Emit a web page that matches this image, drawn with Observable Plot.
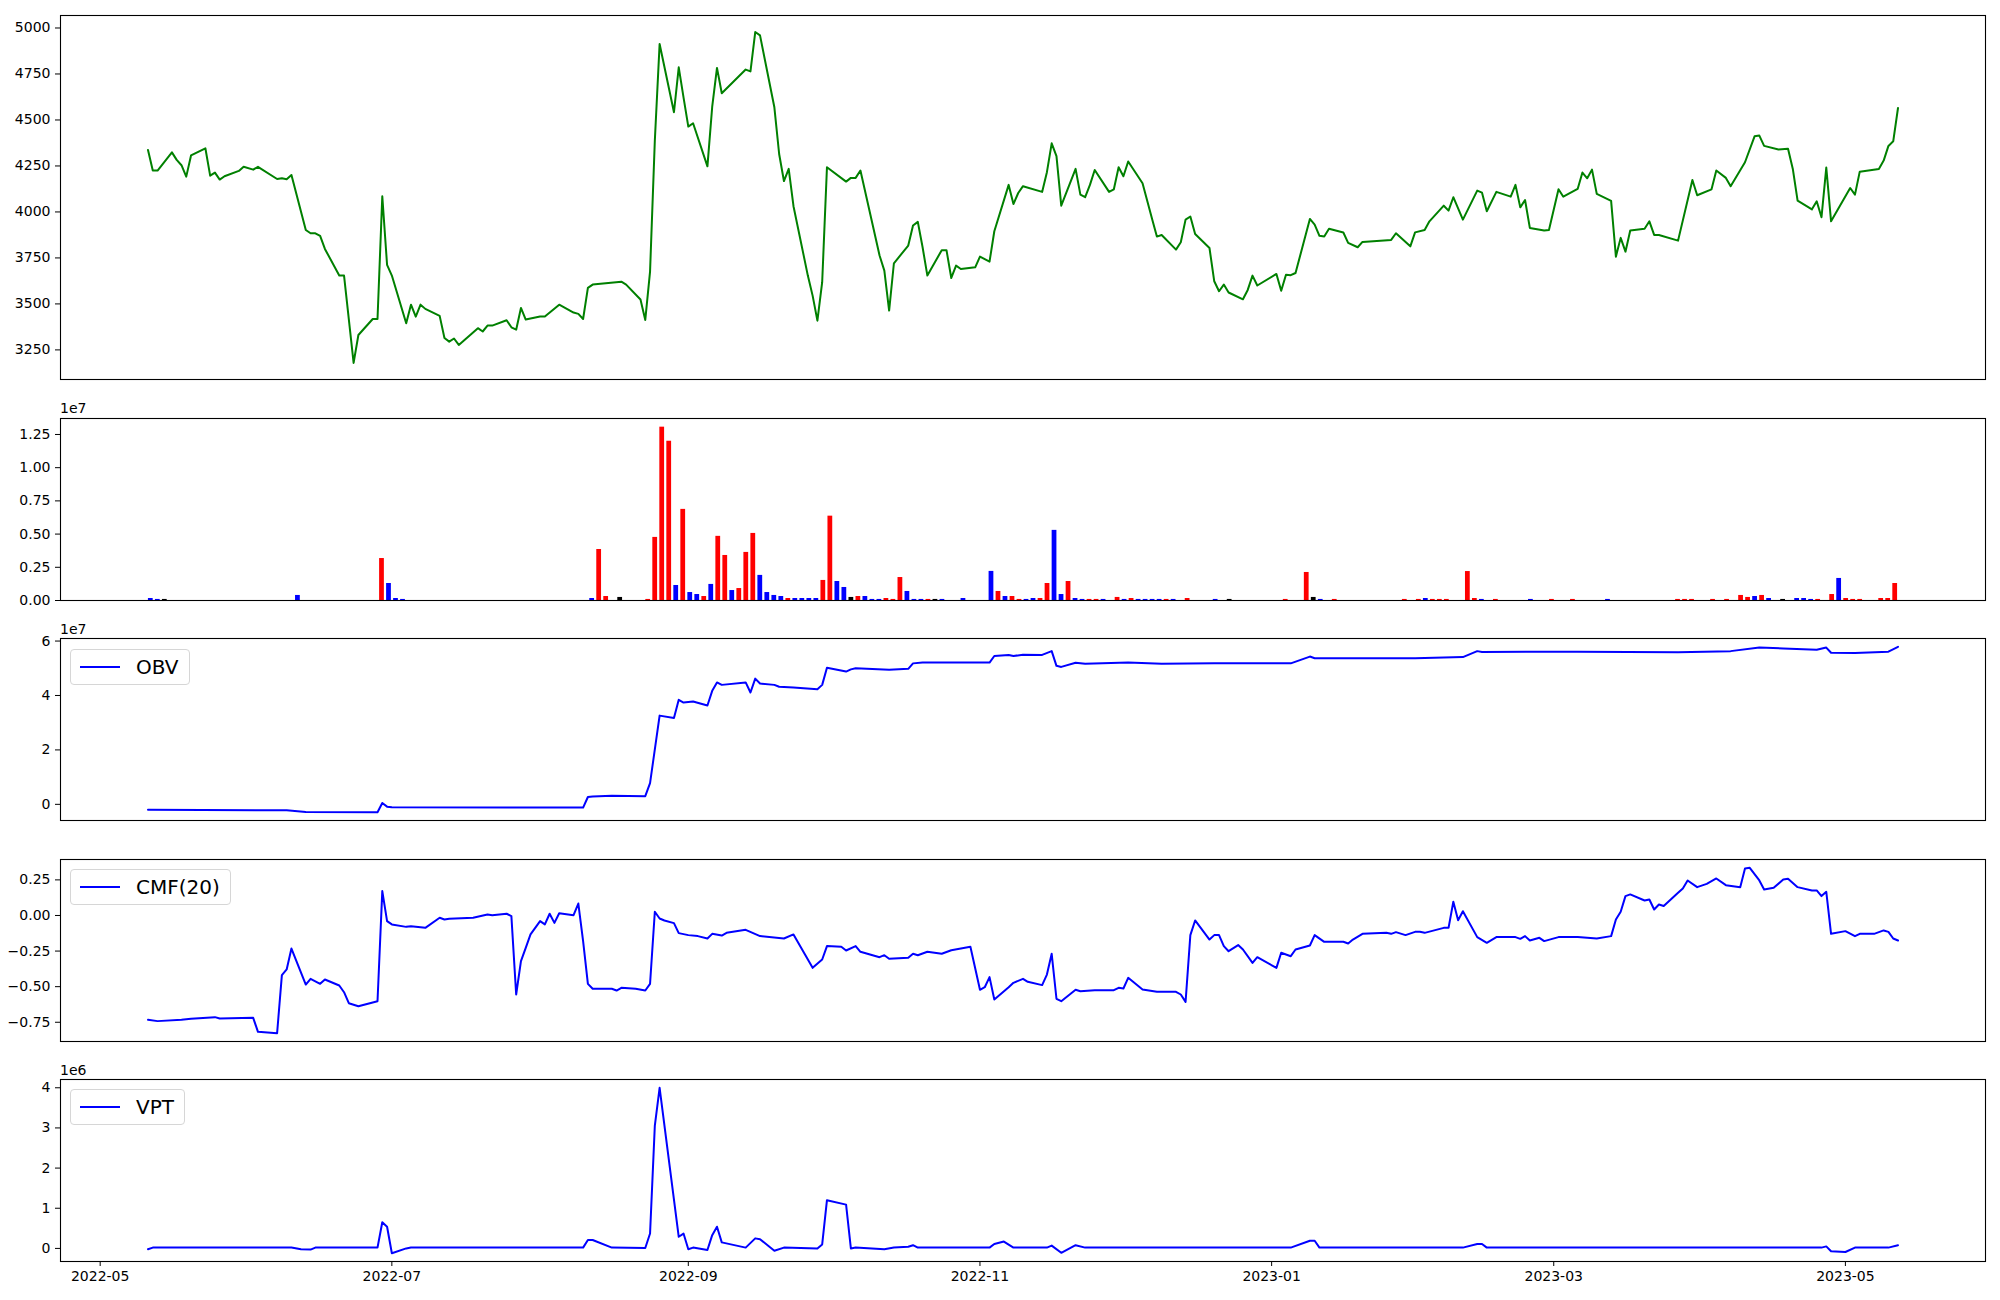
<!DOCTYPE html>
<html><head><meta charset="utf-8">
<script src="https://cdn.jsdelivr.net/npm/d3@7"></script>
<script src="https://cdn.jsdelivr.net/npm/@observablehq/plot@0.6"></script>
<style>
html,body{margin:0;padding:0;background:#fff;}
#chart{position:relative;width:2000px;height:1300px;font-family:"DejaVu Sans",sans-serif;overflow:hidden;}
.panel{position:absolute;left:0;}
.panel svg{display:block;}
.offset{position:absolute;left:60px;font-size:14px;line-height:14px;color:#000;}
.legend{position:absolute;left:70px;border:1px solid #d6d6d6;border-radius:4px;background:rgba(255,255,255,0.8);padding:6px 10px 6px 9px;display:flex;align-items:center;font-size:20px;line-height:22px;color:#000;}
.legend .swatch{width:40px;height:2px;background:blue;margin-right:16px;}
</style></head><body><div id="chart"></div><script>
// ---------- data ----------
const priceSeries = [["2022-05-11",4337],["2022-05-12",4225],["2022-05-13",4225],["2022-05-16",4324],["2022-05-17",4283],["2022-05-18",4254],["2022-05-19",4192],["2022-05-20",4307],["2022-05-23",4346],["2022-05-24",4197],["2022-05-25",4214],["2022-05-26",4176],["2022-05-27",4194],["2022-05-30",4223],["2022-05-31",4246],["2022-06-02",4230],["2022-06-03",4245],["2022-06-07",4179],["2022-06-08",4183],["2022-06-09",4178],["2022-06-10",4201],["2022-06-13",3902],["2022-06-14",3884],["2022-06-15",3884],["2022-06-16",3870],["2022-06-17",3799],["2022-06-20",3654],["2022-06-21",3654],["2022-06-23",3179],["2022-06-24",3331],["2022-06-27",3418],["2022-06-28",3418],["2022-06-29",4085],["2022-06-30",3712],["2022-07-01",3654],["2022-07-04",3395],["2022-07-05",3496],["2022-07-06",3431],["2022-07-07",3496],["2022-07-08",3473],["2022-07-11",3435],["2022-07-12",3315],["2022-07-13",3295],["2022-07-14",3312],["2022-07-15",3277],["2022-07-19",3368],["2022-07-20",3350],["2022-07-21",3382],["2022-07-22",3382],["2022-07-25",3411],["2022-07-26",3373],["2022-07-27",3360],["2022-07-28",3478],["2022-07-29",3415],["2022-08-01",3431],["2022-08-02",3431],["2022-08-05",3496],["2022-08-08",3453],["2022-08-09",3446],["2022-08-10",3418],["2022-08-11",3587],["2022-08-12",3605],["2022-08-18",3621],["2022-08-19",3605],["2022-08-22",3524],["2022-08-23",3413],["2022-08-24",3676],["2022-08-25",4388],["2022-08-26",4913],["2022-08-29",4542],["2022-08-30",4786],["2022-08-31",4623],["2022-09-01",4464],["2022-09-02",4482],["2022-09-05",4248],["2022-09-06",4572],["2022-09-07",4783],["2022-09-08",4645],["2022-09-13",4774],["2022-09-14",4764],["2022-09-15",4978],["2022-09-16",4960],["2022-09-19",4569],["2022-09-20",4315],["2022-09-21",4168],["2022-09-22",4234],["2022-09-23",4031],["2022-09-26",3654],["2022-09-27",3545],["2022-09-28",3409],["2022-09-29",3618],["2022-09-30",4243],["2022-10-04",4165],["2022-10-05",4185],["2022-10-06",4185],["2022-10-07",4225],["2022-10-11",3763],["2022-10-12",3681],["2022-10-13",3464],["2022-10-14",3721],["2022-10-17",3817],["2022-10-18",3926],["2022-10-19",3946],["2022-10-20",3808],["2022-10-21",3654],["2022-10-24",3792],["2022-10-25",3792],["2022-10-26",3641],["2022-10-27",3708],["2022-10-28",3690],["2022-10-31",3699],["2022-11-01",3757],["2022-11-03",3730],["2022-11-04",3895],["2022-11-07",4147],["2022-11-08",4043],["2022-11-09",4103],["2022-11-10",4140],["2022-11-14",4109],["2022-11-15",4216],["2022-11-16",4373],["2022-11-17",4303],["2022-11-18",4034],["2022-11-21",4234],["2022-11-22",4094],["2022-11-23",4080],["2022-11-24",4147],["2022-11-25",4228],["2022-11-28",4109],["2022-11-29",4123],["2022-11-30",4243],["2022-12-01",4194],["2022-12-02",4274],["2022-12-05",4156],["2022-12-07",3962],["2022-12-08",3866],["2022-12-09",3875],["2022-12-12",3795],["2022-12-13",3835],["2022-12-14",3958],["2022-12-15",3975],["2022-12-16",3880],["2022-12-19",3804],["2022-12-20",3623],["2022-12-21",3569],["2022-12-22",3605],["2022-12-23",3562],["2022-12-26",3525],["2022-12-27",3576],["2022-12-28",3654],["2022-12-29",3600],["2023-01-02",3663],["2023-01-03",3572],["2023-01-04",3659],["2023-01-05",3656],["2023-01-06",3668],["2023-01-09",3962],["2023-01-10",3931],["2023-01-11",3870],["2023-01-12",3866],["2023-01-13",3909],["2023-01-16",3888],["2023-01-17",3832],["2023-01-19",3808],["2023-01-20",3837],["2023-01-26",3848],["2023-01-27",3884],["2023-01-30",3813],["2023-01-31",3889],["2023-02-02",3902],["2023-02-03",3949],["2023-02-06",4034],["2023-02-07",4007],["2023-02-08",4080],["2023-02-10",3958],["2023-02-13",4116],["2023-02-14",4105],["2023-02-15",4004],["2023-02-17",4109],["2023-02-20",4083],["2023-02-21",4147],["2023-02-22",4025],["2023-02-23",4065],["2023-02-24",3913],["2023-02-27",3899],["2023-02-28",3902],["2023-03-02",4123],["2023-03-03",4083],["2023-03-06",4125],["2023-03-07",4214],["2023-03-08",4183],["2023-03-09",4230],["2023-03-10",4098],["2023-03-13",4060],["2023-03-14",3757],["2023-03-15",3859],["2023-03-16",3784],["2023-03-17",3899],["2023-03-20",3909],["2023-03-21",3949],["2023-03-22",3875],["2023-03-23",3875],["2023-03-27",3844],["2023-03-30",4174],["2023-03-31",4091],["2023-04-03",4123],["2023-04-04",4225],["2023-04-06",4185],["2023-04-07",4140],["2023-04-10",4270],["2023-04-12",4411],["2023-04-13",4415],["2023-04-14",4359],["2023-04-17",4339],["2023-04-19",4344],["2023-04-20",4234],["2023-04-21",4062],["2023-04-24",4014],["2023-04-25",4058],["2023-04-26",3971],["2023-04-27",4241],["2023-04-28",3949],["2023-05-02",4130],["2023-05-03",4094],["2023-05-04",4219],["2023-05-08",4234],["2023-05-09",4279],["2023-05-10",4359],["2023-05-11",4384],["2023-05-12",4565]];

// volume bars: [slot index, volume, direction]
const volumeBars = [[0,0.015e7,"down"],[1,0.008e7,"down"],[2,0.008e7,"flat"],[21,0.038e7,"down"],[33,0.316e7,"up"],[34,0.128e7,"down"],[35,0.015e7,"down"],[36,0.008e7,"down"],[63,0.015e7,"down"],[64,0.384e7,"up"],[65,0.030e7,"up"],[67,0.023e7,"flat"],[71,0.008e7,"up"],[72,0.475e7,"up"],[73,1.305e7,"up"],[74,1.199e7,"up"],[75,0.113e7,"down"],[76,0.686e7,"up"],[77,0.060e7,"down"],[78,0.045e7,"down"],[79,0.030e7,"up"],[80,0.121e7,"down"],[81,0.483e7,"up"],[82,0.339e7,"up"],[83,0.075e7,"down"],[84,0.090e7,"up"],[85,0.362e7,"up"],[86,0.505e7,"up"],[87,0.189e7,"down"],[88,0.060e7,"down"],[89,0.038e7,"down"],[90,0.030e7,"down"],[91,0.015e7,"up"],[92,0.015e7,"down"],[93,0.015e7,"down"],[94,0.015e7,"down"],[95,0.015e7,"down"],[96,0.151e7,"up"],[97,0.635e7,"up"],[98,0.143e7,"down"],[99,0.098e7,"down"],[100,0.023e7,"flat"],[101,0.030e7,"up"],[102,0.030e7,"down"],[103,0.008e7,"down"],[104,0.008e7,"down"],[105,0.015e7,"up"],[106,0.008e7,"up"],[107,0.173e7,"up"],[108,0.068e7,"down"],[109,0.008e7,"down"],[110,0.008e7,"down"],[111,0.008e7,"up"],[112,0.008e7,"flat"],[113,0.008e7,"down"],[116,0.015e7,"down"],[120,0.219e7,"down"],[121,0.068e7,"up"],[122,0.030e7,"down"],[123,0.030e7,"up"],[124,0.008e7,"up"],[125,0.008e7,"down"],[126,0.015e7,"down"],[127,0.015e7,"up"],[128,0.128e7,"up"],[129,0.528e7,"down"],[130,0.045e7,"down"],[131,0.143e7,"up"],[132,0.015e7,"down"],[133,0.008e7,"down"],[134,0.008e7,"up"],[135,0.008e7,"up"],[136,0.008e7,"down"],[138,0.023e7,"up"],[139,0.008e7,"down"],[140,0.015e7,"up"],[141,0.008e7,"down"],[142,0.008e7,"down"],[143,0.008e7,"down"],[144,0.008e7,"down"],[145,0.008e7,"up"],[146,0.008e7,"down"],[148,0.015e7,"up"],[152,0.008e7,"down"],[154,0.008e7,"flat"],[162,0.008e7,"up"],[165,0.211e7,"up"],[166,0.023e7,"flat"],[167,0.008e7,"down"],[169,0.008e7,"up"],[179,0.008e7,"up"],[181,0.008e7,"up"],[182,0.015e7,"down"],[183,0.008e7,"up"],[184,0.008e7,"up"],[185,0.008e7,"up"],[188,0.218e7,"up"],[189,0.015e7,"up"],[190,0.008e7,"down"],[192,0.008e7,"up"],[197,0.008e7,"down"],[200,0.008e7,"up"],[203,0.008e7,"up"],[208,0.008e7,"down"],[218,0.008e7,"up"],[219,0.008e7,"up"],[220,0.008e7,"up"],[223,0.008e7,"up"],[225,0.008e7,"up"],[227,0.038e7,"up"],[228,0.023e7,"up"],[229,0.030e7,"down"],[230,0.038e7,"up"],[231,0.015e7,"down"],[233,0.008e7,"flat"],[235,0.015e7,"down"],[236,0.015e7,"down"],[237,0.008e7,"down"],[238,0.008e7,"up"],[240,0.045e7,"up"],[241,0.166e7,"down"],[242,0.015e7,"up"],[243,0.008e7,"up"],[244,0.008e7,"up"],[247,0.015e7,"up"],[248,0.015e7,"up"],[249,0.128e7,"up"]];
const volumeSlots = 250;
const volumeDirections = ["up", "down", "flat"];
const volumeColors = ["red", "blue", "black"];

const obvSeries = [["2022-05-11",-0.195e7],["2022-06-09",-0.22e7],["2022-06-13",-0.28e7],["2022-06-28",-0.29e7],["2022-06-29",0.05e7],["2022-06-30",-0.085e7],["2022-07-01",-0.11e7],["2022-08-10",-0.12e7],["2022-08-11",0.27e7],["2022-08-12",0.29e7],["2022-08-16",0.32e7],["2022-08-23",0.30e7],["2022-08-24",0.78e7],["2022-08-26",3.26e7],["2022-08-29",3.17e7],["2022-08-30",3.84e7],["2022-08-31",3.74e7],["2022-09-02",3.78e7],["2022-09-05",3.63e7],["2022-09-06",4.17e7],["2022-09-07",4.48e7],["2022-09-08",4.39e7],["2022-09-13",4.48e7],["2022-09-14",4.11e7],["2022-09-15",4.62e7],["2022-09-16",4.44e7],["2022-09-19",4.39e7],["2022-09-20",4.32e7],["2022-09-23",4.29e7],["2022-09-28",4.23e7],["2022-09-29",4.39e7],["2022-09-30",5.02e7],["2022-10-04",4.88e7],["2022-10-05",4.96e7],["2022-10-06",5.00e7],["2022-10-13",4.95e7],["2022-10-17",4.98e7],["2022-10-18",5.18e7],["2022-10-20",5.21e7],["2022-11-03",5.21e7],["2022-11-04",5.45e7],["2022-11-07",5.49e7],["2022-11-08",5.45e7],["2022-11-10",5.50e7],["2022-11-14",5.49e7],["2022-11-16",5.63e7],["2022-11-17",5.09e7],["2022-11-18",5.05e7],["2022-11-21",5.20e7],["2022-11-23",5.17e7],["2022-12-02",5.21e7],["2022-12-09",5.17e7],["2022-12-20",5.18e7],["2023-01-05",5.18e7],["2023-01-09",5.43e7],["2023-01-10",5.37e7],["2023-01-31",5.37e7],["2023-02-10",5.41e7],["2023-02-13",5.63e7],["2023-02-14",5.60e7],["2023-03-06",5.61e7],["2023-03-27",5.59e7],["2023-04-07",5.63e7],["2023-04-13",5.76e7],["2023-04-18",5.73e7],["2023-04-25",5.68e7],["2023-04-27",5.76e7],["2023-04-28",5.57e7],["2023-05-03",5.56e7],["2023-05-10",5.61e7],["2023-05-12",5.79e7]];

const cmfSeries = [["2022-05-11",-0.733],["2022-05-13",-0.742],["2022-05-18",-0.733],["2022-05-20",-0.726],["2022-05-25",-0.714],["2022-05-26",-0.724],["2022-06-02",-0.719],["2022-06-03",-0.817],["2022-06-07",-0.827],["2022-06-08",-0.419],["2022-06-09",-0.379],["2022-06-10",-0.232],["2022-06-13",-0.485],["2022-06-14",-0.445],["2022-06-16",-0.480],["2022-06-17",-0.450],["2022-06-20",-0.492],["2022-06-21",-0.539],["2022-06-22",-0.616],["2022-06-24",-0.637],["2022-06-28",-0.602],["2022-06-29",0.171],["2022-06-30",-0.040],["2022-07-01",-0.063],["2022-07-04",-0.080],["2022-07-05",-0.075],["2022-07-07",-0.082],["2022-07-08",-0.087],["2022-07-11",-0.016],["2022-07-12",-0.028],["2022-07-13",-0.023],["2022-07-18",-0.016],["2022-07-21",0.007],["2022-07-22",0.002],["2022-07-25",0.012],["2022-07-26",-0.005],["2022-07-27",-0.555],["2022-07-28",-0.321],["2022-07-29",-0.227],["2022-07-30",-0.133],["2022-08-01",-0.040],["2022-08-02",-0.063],["2022-08-03",0.012],["2022-08-04",-0.052],["2022-08-05",0.016],["2022-08-08",0.002],["2022-08-09",0.084],["2022-08-10",-0.180],["2022-08-11",-0.480],["2022-08-12",-0.515],["2022-08-16",-0.515],["2022-08-17",-0.527],["2022-08-18",-0.508],["2022-08-21",-0.515],["2022-08-23",-0.527],["2022-08-24",-0.480],["2022-08-25",0.026],["2022-08-26",-0.021],["2022-08-27",-0.035],["2022-08-29",-0.054],["2022-08-30",-0.124],["2022-09-01",-0.138],["2022-09-03",-0.145],["2022-09-05",-0.162],["2022-09-06",-0.129],["2022-09-08",-0.141],["2022-09-09",-0.122],["2022-09-13",-0.101],["2022-09-16",-0.145],["2022-09-21",-0.162],["2022-09-23",-0.133],["2022-09-27",-0.368],["2022-09-29",-0.309],["2022-09-30",-0.215],["2022-10-03",-0.220],["2022-10-04",-0.246],["2022-10-06",-0.215],["2022-10-07",-0.255],["2022-10-11",-0.293],["2022-10-12",-0.279],["2022-10-13",-0.304],["2022-10-17",-0.297],["2022-10-18",-0.269],["2022-10-19",-0.279],["2022-10-21",-0.255],["2022-10-24",-0.269],["2022-10-26",-0.244],["2022-10-30",-0.220],["2022-11-01",-0.522],["2022-11-02",-0.504],["2022-11-03",-0.433],["2022-11-04",-0.590],["2022-11-07",-0.504],["2022-11-08",-0.473],["2022-11-10",-0.445],["2022-11-11",-0.466],["2022-11-14",-0.489],["2022-11-15",-0.415],["2022-11-16",-0.269],["2022-11-17",-0.585],["2022-11-18",-0.602],["2022-11-21",-0.522],["2022-11-22",-0.532],["2022-11-25",-0.525],["2022-11-29",-0.525],["2022-11-30",-0.508],["2022-12-01",-0.513],["2022-12-02",-0.438],["2022-12-05",-0.520],["2022-12-08",-0.536],["2022-12-12",-0.536],["2022-12-13",-0.555],["2022-12-14",-0.607],["2022-12-15",-0.138],["2022-12-16",-0.035],["2022-12-19",-0.169],["2022-12-20",-0.138],["2022-12-21",-0.138],["2022-12-22",-0.215],["2022-12-23",-0.251],["2022-12-25",-0.208],["2022-12-26",-0.239],["2022-12-28",-0.333],["2022-12-29",-0.293],["2023-01-02",-0.368],["2023-01-03",-0.262],["2023-01-05",-0.286],["2023-01-06",-0.239],["2023-01-09",-0.211],["2023-01-10",-0.138],["2023-01-12",-0.185],["2023-01-16",-0.185],["2023-01-17",-0.197],["2023-01-18",-0.169],["2023-01-20",-0.129],["2023-01-25",-0.122],["2023-01-26",-0.129],["2023-01-27",-0.117],["2023-01-29",-0.138],["2023-01-31",-0.115],["2023-02-01",-0.115],["2023-02-02",-0.122],["2023-02-06",-0.087],["2023-02-07",-0.087],["2023-02-08",0.096],["2023-02-09",-0.033],["2023-02-10",0.030],["2023-02-13",-0.152],["2023-02-15",-0.192],["2023-02-17",-0.152],["2023-02-21",-0.152],["2023-02-22",-0.164],["2023-02-23",-0.145],["2023-02-24",-0.176],["2023-02-26",-0.157],["2023-02-27",-0.180],["2023-03-02",-0.152],["2023-03-06",-0.152],["2023-03-10",-0.162],["2023-03-13",-0.145],["2023-03-14",-0.028],["2023-03-15",0.026],["2023-03-16",0.136],["2023-03-17",0.148],["2023-03-20",0.105],["2023-03-21",0.112],["2023-03-22",0.042],["2023-03-23",0.077],["2023-03-24",0.066],["2023-03-27",0.159],["2023-03-28",0.190],["2023-03-29",0.246],["2023-03-31",0.199],["2023-04-02",0.222],["2023-04-04",0.260],["2023-04-06",0.213],["2023-04-09",0.199],["2023-04-10",0.330],["2023-04-11",0.335],["2023-04-13",0.246],["2023-04-14",0.183],["2023-04-16",0.194],["2023-04-18",0.253],["2023-04-19",0.258],["2023-04-21",0.199],["2023-04-24",0.176],["2023-04-25",0.176],["2023-04-26",0.136],["2023-04-27",0.166],["2023-04-28",-0.129],["2023-05-01",-0.110],["2023-05-03",-0.145],["2023-05-04",-0.129],["2023-05-07",-0.129],["2023-05-09",-0.105],["2023-05-10",-0.115],["2023-05-11",-0.162],["2023-05-12",-0.176]];

const vptSeries = [["2022-05-11",-0.02e6],["2022-05-12",0.02e6],["2022-06-10",0.02e6],["2022-06-12",-0.02e6],["2022-06-14",-0.03e6],["2022-06-15",0.02e6],["2022-06-28",0.02e6],["2022-06-29",0.65e6],["2022-06-30",0.54e6],["2022-07-01",-0.12e6],["2022-07-04",0.0],["2022-07-05",0.02e6],["2022-08-10",0.02e6],["2022-08-11",0.21e6],["2022-08-12",0.21e6],["2022-08-16",0.02e6],["2022-08-23",0.01e6],["2022-08-24",0.37e6],["2022-08-25",3.06e6],["2022-08-26",4.0e6],["2022-08-30",0.29e6],["2022-08-31",0.37e6],["2022-09-01",-0.02e6],["2022-09-02",0.02e6],["2022-09-05",-0.04e6],["2022-09-06",0.33e6],["2022-09-07",0.54e6],["2022-09-08",0.15e6],["2022-09-13",0.02e6],["2022-09-15",0.25e6],["2022-09-16",0.23e6],["2022-09-19",-0.06e6],["2022-09-21",0.02e6],["2022-09-28",0.0],["2022-09-29",0.10e6],["2022-09-30",1.20e6],["2022-10-04",1.09e6],["2022-10-05",0.0],["2022-10-06",0.02e6],["2022-10-12",-0.02e6],["2022-10-14",0.02e6],["2022-10-17",0.04e6],["2022-10-18",0.08e6],["2022-10-19",0.02e6],["2022-11-03",0.02e6],["2022-11-04",0.11e6],["2022-11-06",0.17e6],["2022-11-08",0.02e6],["2022-11-15",0.02e6],["2022-11-16",0.07e6],["2022-11-18",-0.11e6],["2022-11-21",0.08e6],["2022-11-23",0.02e6],["2023-01-05",0.02e6],["2023-01-09",0.19e6],["2023-01-10",0.19e6],["2023-01-11",0.02e6],["2023-02-10",0.02e6],["2023-02-13",0.11e6],["2023-02-14",0.11e6],["2023-02-15",0.02e6],["2023-04-26",0.02e6],["2023-04-27",0.05e6],["2023-04-28",-0.07e6],["2023-05-01",-0.09e6],["2023-05-03",0.02e6],["2023-05-10",0.02e6],["2023-05-12",0.08e6]];

const priceTicks = [3250, 3500, 3750, 4000, 4250, 4500, 4750, 5000];
const volumeTicks = [0, 0.25e7, 0.5e7, 0.75e7, 1.0e7, 1.25e7];
const obvTicks = [0, 2e7, 4e7, 6e7];
const cmfTicks = [-0.75, -0.5, -0.25, 0, 0.25];
const vptTicks = [0, 1e6, 2e6, 3e6, 4e6];
const dateTickLabels = ["2022-05", "2022-07", "2022-09", "2022-11", "2023-01", "2023-03", "2023-05"];
const legendLabels = ["OBV", "CMF(20)", "VPT"];
const offsetLabels = ["1e7", "1e7", "1e6"];

// ---------- build ----------
const parseDay = d3.utcParse("%Y-%m-%d");
const parseMonth = d3.utcParse("%Y-%m");
const toRows = s => s.map(([d, v]) => ({date: parseDay(d), value: v}));
const price = toRows(priceSeries), obv = toRows(obvSeries), cmf = toRows(cmfSeries), vpt = toRows(vptSeries);
const volume = volumeBars.map(([slot, v, dir]) => ({slot, volume: v, dir}));

const [t0, t1] = d3.extent(price, d => d.date);
const tPad = (t1 - t0) * 0.05;
const xDomain = [new Date(+t0 - tPad), new Date(+t1 + tPad)];
const slotPad = (volumeSlots - 1 + 0.8) * 0.05;
const slotDomain = [-0.4 - slotPad, volumeSlots - 1 + 0.4 + slotPad];

function padded(rows, key) {
  const [a, b] = d3.extent(rows, d => d[key]);
  const p = (b - a) * 0.05;
  return [a - p, b + p];
}
const minus = s => s.replace("-", "\u2212");

const W = 2000, ML = 60, MR = 15, MT = 15;
const chart = document.getElementById("chart");
const baseStyle = {fontFamily: "DejaVu Sans", fontSize: "14px", color: "black", background: "transparent", overflow: "visible"};

function place(svg, frameTop) {
  const wrap = document.createElement("div");
  wrap.className = "panel";
  wrap.style.top = (frameTop - MT) + "px";
  wrap.appendChild(svg);
  chart.appendChild(wrap);
}
function yOpts(domain, ticks, fmt) {
  return {domain, ticks, tickFormat: fmt, tickSize: 5, tickPadding: 5, label: null};
}
const frame = () => Plot.frame({stroke: "black", strokeWidth: 1.1});

// Panel 1: price
place(Plot.plot({
  width: W, height: MT + 364 + 8, marginLeft: ML, marginRight: MR, marginTop: MT, marginBottom: 8,
  style: baseStyle,
  x: {type: "utc", domain: xDomain, axis: null},
  y: yOpts(padded(price, "value"), priceTicks, d => String(d)),
  marks: [frame(), Plot.lineY(price, {x: "date", y: "value", stroke: "green", strokeWidth: 2})]
}), 15);

// Panel 2: volume
const vMax = d3.max(volume, d => d.volume);
place(Plot.plot({
  width: W, height: MT + 182 + 8, marginLeft: ML, marginRight: MR, marginTop: MT, marginBottom: 8,
  style: baseStyle,
  x: {type: "linear", domain: slotDomain, axis: null},
  y: yOpts([0, vMax * 1.05], volumeTicks, d => (d / 1e7).toFixed(2)),
  color: {domain: volumeDirections, range: volumeColors},
  marks: [
    Plot.rect(volume, {x1: d => d.slot - 0.34, x2: d => d.slot + 0.34, y1: d => 0, y2: "volume", fill: "dir"}),
    frame()
  ]
}), 417.5);

// Panel 3: OBV
place(Plot.plot({
  width: W, height: MT + 182 + 8, marginLeft: ML, marginRight: MR, marginTop: MT, marginBottom: 8,
  style: baseStyle,
  x: {type: "utc", domain: xDomain, axis: null},
  y: yOpts(padded(obv, "value"), obvTicks, d => String(d / 1e7)),
  marks: [frame(), Plot.lineY(obv, {x: "date", y: "value", stroke: "blue", strokeWidth: 2})]
}), 638);

// Panel 4: CMF
place(Plot.plot({
  width: W, height: MT + 182 + 8, marginLeft: ML, marginRight: MR, marginTop: MT, marginBottom: 8,
  style: baseStyle,
  x: {type: "utc", domain: xDomain, axis: null},
  y: yOpts(padded(cmf, "value"), cmfTicks, d => minus(d.toFixed(2))),
  marks: [frame(), Plot.lineY(cmf, {x: "date", y: "value", stroke: "blue", strokeWidth: 2})]
}), 858.5);

// Panel 5: VPT with date axis
place(Plot.plot({
  width: W, height: MT + 182 + 39, marginLeft: ML, marginRight: MR, marginTop: MT, marginBottom: 39,
  style: baseStyle,
  x: {type: "utc", domain: xDomain, ticks: dateTickLabels.map(parseMonth), tickFormat: d3.utcFormat("%Y-%m"), tickSize: 5, tickPadding: 5, label: null},
  y: yOpts(padded(vpt, "value"), vptTicks, d => String(d / 1e6)),
  marks: [frame(), Plot.lineY(vpt, {x: "date", y: "value", stroke: "blue", strokeWidth: 2})]
}), 1079);

// offset labels (scientific multipliers)
[[offsetLabels[0], 401], [offsetLabels[1], 622], [offsetLabels[2], 1063]].forEach(([t, top]) => {
  const el = document.createElement("div");
  el.className = "offset"; el.style.top = top + "px"; el.textContent = t;
  chart.appendChild(el);
});

// legends
[[legendLabels[0], 649], [legendLabels[1], 869], [legendLabels[2], 1089]].forEach(([t, top]) => {
  const el = document.createElement("div");
  el.className = "legend"; el.style.top = top + "px";
  const sw = document.createElement("span"); sw.className = "swatch";
  const tx = document.createElement("span"); tx.textContent = t;
  el.appendChild(sw); el.appendChild(tx);
  chart.appendChild(el);
});
</script></body></html>
